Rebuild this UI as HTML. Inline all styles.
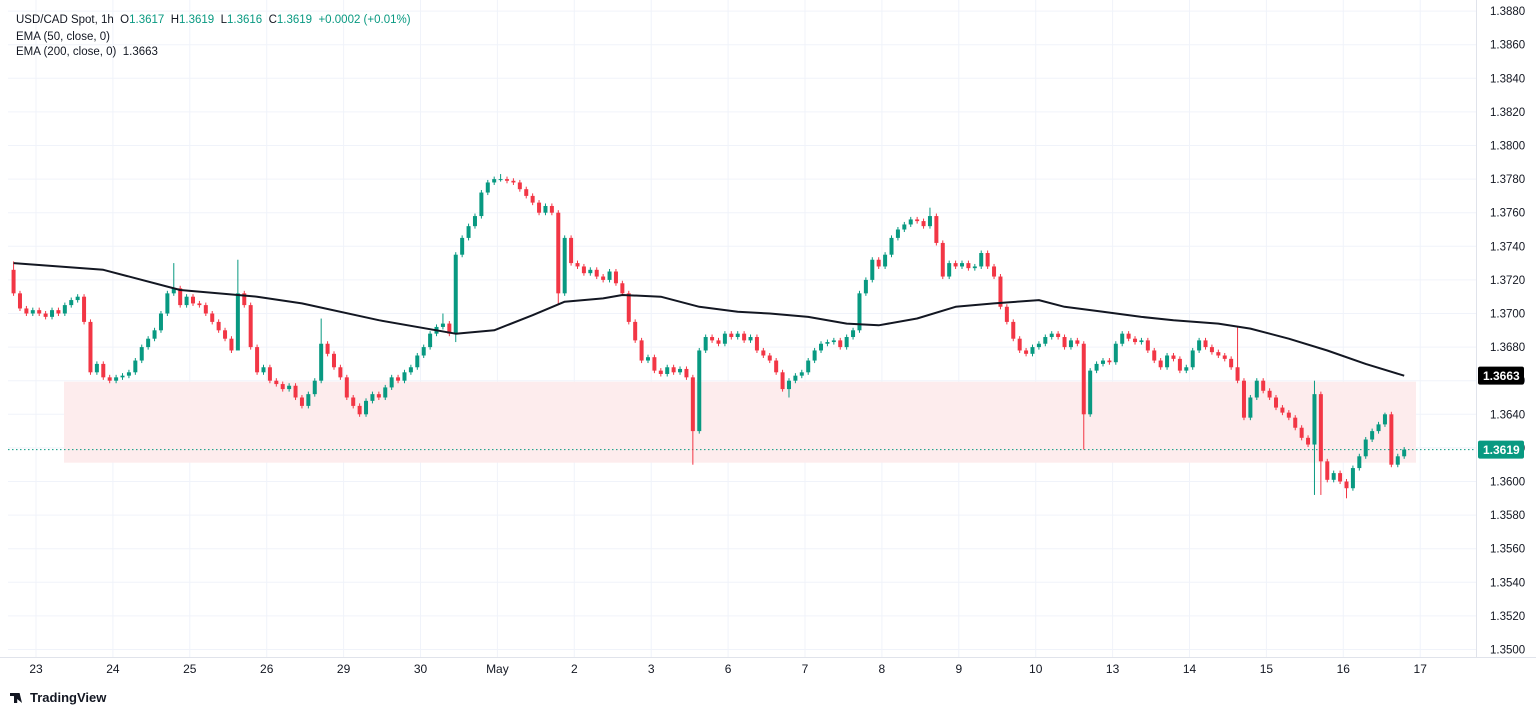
<!DOCTYPE html>
<html><head><meta charset="utf-8"><style>
body{margin:0;background:#fff;width:1536px;height:714px;overflow:hidden;font-family:"Liberation Sans",sans-serif}
svg{position:absolute;left:0;top:0}
.lg{position:absolute;left:16px;font-size:11.5px;color:#131722;white-space:nowrap}
.v{color:#089981}
</style></head><body>
<svg id="chart" width="1536" height="714"></svg>
<div class="lg" style="top:14px">USD/CAD Spot, 1h &nbsp;O<span class="v">1.3617</span> &nbsp;H<span class="v">1.3619</span> &nbsp;L<span class="v">1.3616</span> &nbsp;C<span class="v">1.3619</span> &nbsp;<span class="v">+0.0002 (+0.01%)</span></div>
<div class="lg" style="top:31px">EMA (50, close, 0)</div>
<div class="lg" style="top:46px">EMA (200, close, 0) &nbsp;1.3663</div>
<div style="position:absolute;left:10px;top:690px;font-size:13px;font-weight:bold;color:#131722"><span style="display:inline-block;width:16px;height:10px;background:#131722;vertical-align:-1px;margin-right:4px;clip-path:polygon(0 0,45% 0,45% 100%,25% 100%,25% 30%,0 30%,0 0,50% 0,60% 0,75% 100%,100% 0,75% 100%)"></span>TradingView</div>
<script>
const closes=[3712,3703,3700,3702,
3700,3698,3702,3700,3705,3708,3710,3695,3665,3670,3662,3660,
3662,3663,3665,3672,3680,3685,3690,3700,3712,3715,3705,3710,
3706,3705,3700,3695,3690,3685,3678,3712,3705,3680,3665,3668,
3660,3658,3655,3657,3650,3645,3652,3660,3682,3676,3668,3662,
3650,3645,3640,3648,3652,3650,3656,3662,3660,3665,3668,3675,
3680,3688,3692,3694,3688,3735,3745,3752,3758,3772,3778,3780,
3780,3779,3778,3774,3770,3766,3760,3764,3760,3712,3745,3730,
3728,3724,3726,3722,3720,3725,3718,3712,3695,3684,3672,3674,
3666,3664,3668,3665,3667,3662,3630,3678,3686,3684,3682,3688,
3686,3688,3684,3686,3678,3675,3672,3665,3655,3660,3663,3665,
3672,3678,3682,3683,3684,3680,3686,3690,3712,3720,3732,3728,
3735,3745,3750,3753,3756,3755,3752,3758,3742,3722,3730,3728,
3730,3727,3728,3736,3728,3722,3704,3695,3685,3678,3676,3680,
3682,3686,3688,3686,3680,3684,3682,3640,3666,3670,3672,3671,
3682,3688,3685,3683,3684,3678,3672,3668,3675,3673,3666,3668,
3678,3684,3680,3677,3675,3673,3668,3660,3638,3650,3660,3654,
3650,3644,3641,3638,3632,3626,3622,3652,3612,3601,3605,3600,
3596,3608,3615,3625,3630,3634,3640,3610,3615,3619];
const firstOpen=3726;
const spikeIdx=[0,25,35,48,67,69,76,85,106,121,143,167,191,203,204,208,214];
const spikeHigh=[3731,3730,3732,3697,3700,0,3783,0,0,0,3763,0,3692,3660,0,0,3641];
const spikeLow=[0,0,3700,0,0,3683,0,3705,3610,3650,0,3619,0,3592,3592,3590,0];
const emaIdx=[0,14,26,38,45,57,69,75,81,86,92,95,101,107,113,118,124,130,135,141,147,153,160,164,170,176,181,188,193,199,205,211,217];
const emaVal=[3730,3726,3714,3710,3706,3696,3688,3690,3699,3707,3709,3711,3710,3704,3701,3700,3698,3694,3693,3697,3704,3706,3708,3704,3701,3698,3696,3694,3691,3685,3678,3670,3663];
const priceTicks=[3500,3520,3540,3560,3580,3600,3620,3640,3660,3680,3700,3720,3740,3760,3780,3800,3820,3840,3860,3880];
const dayLabels=["23","24","25","26","29","30","May","2","3","6","7","8","9","10","13","14","15","16","17"];
const zoneTop=3659.4, zoneBot=3611.2, lastPrice=3619, emaLast=3663;

const S=document.getElementById('chart'),NS='http://www.w3.org/2000/svg';
function el(t,a){const e=document.createElementNS(NS,t);for(const k in a)e.setAttribute(k,a[k]);S.appendChild(e);return e;}
const y=p=>313.5+(3700-p)*1.68;
const DW=76.9;
const x=i=>36+(i-4+0.5)*DW/12;
const fmt=p=>(1+p/10000).toFixed(4);
// grid
priceTicks.forEach(p=>{const g=el('line',{x1:8,x2:1476,y1:y(p),y2:y(p),stroke:'#f0f3fa','stroke-width':1});

});
dayLabels.forEach((d,k)=>{const gx=36+k*DW;const g=el('line',{x1:gx,x2:gx,y1:0,y2:657,stroke:'#f0f3fa','stroke-width':1});


const t=el('text',{x:gx,y:673,'font-size':12,'text-anchor':'middle',fill:'#131722'});t.textContent=d;

});
// zone
const z=el('rect',{x:64,y:y(zoneTop),width:1352,height:y(zoneBot)-y(zoneTop),fill:'#fdeced'});


// last price line
const lp=el('line',{x1:8,x2:1476,y1:y(lastPrice),y2:y(lastPrice),stroke:'#089981','stroke-width':1,'stroke-dasharray':'1.5,2.5'});


// candles
closes.forEach((c,i)=>{
 const o=i?closes[i-1]:firstOpen;
 let hi=Math.max(o,c)+1.5, lo=Math.min(o,c)-1.5;
 const si=spikeIdx.indexOf(i);
 if(si>=0){if(spikeHigh[si])hi=spikeHigh[si];if(spikeLow[si])lo=spikeLow[si];}
 const col=c>=o?'#089981':'#f23645';const cx=x(i);
 const w=el('line',{x1:cx,x2:cx,y1:y(hi),y2:y(lo),stroke:col,'stroke-width':1});
 
 
 const top=y(Math.max(o,c)),h=Math.max(1,y(Math.min(o,c))-top);
 const b=el('rect',{x:cx-2,y:top,width:4,height:h,fill:col});
 
 
});
// EMA
const ema=el('path',{d:emaIdx.map((i,k)=>(k?'L':'M')+x(i).toFixed(1)+','+y(emaVal[k]).toFixed(1)).join(''),fill:'none',stroke:'#131722','stroke-width':2,'stroke-linejoin':'round'});


// axes
const ax=el('line',{x1:1476.5,x2:1476.5,y1:0,y2:657,stroke:'#e0e3eb'});


const bx=el('line',{x1:0,x2:1536,y1:657.5,y2:657.5,stroke:'#e0e3eb'});


priceTicks.forEach(p=>{const t=el('text',{x:1490,y:y(p)+4,'font-size':11.5,fill:'#131722'});t.textContent=fmt(p);

});
function badge(p,bg,name){const r=el('rect',{x:1478,y:y(p)-9,width:46,height:18,rx:2,fill:bg});


const t=el('text',{x:1483,y:y(p)+4.5,'font-size':12,'font-weight':'bold',fill:'#fff'});t.textContent=fmt(p);

}
badge(emaLast,'#000','ema-price-badge');
badge(lastPrice,'#089981','last-price-badge');
</script>
</body></html>
